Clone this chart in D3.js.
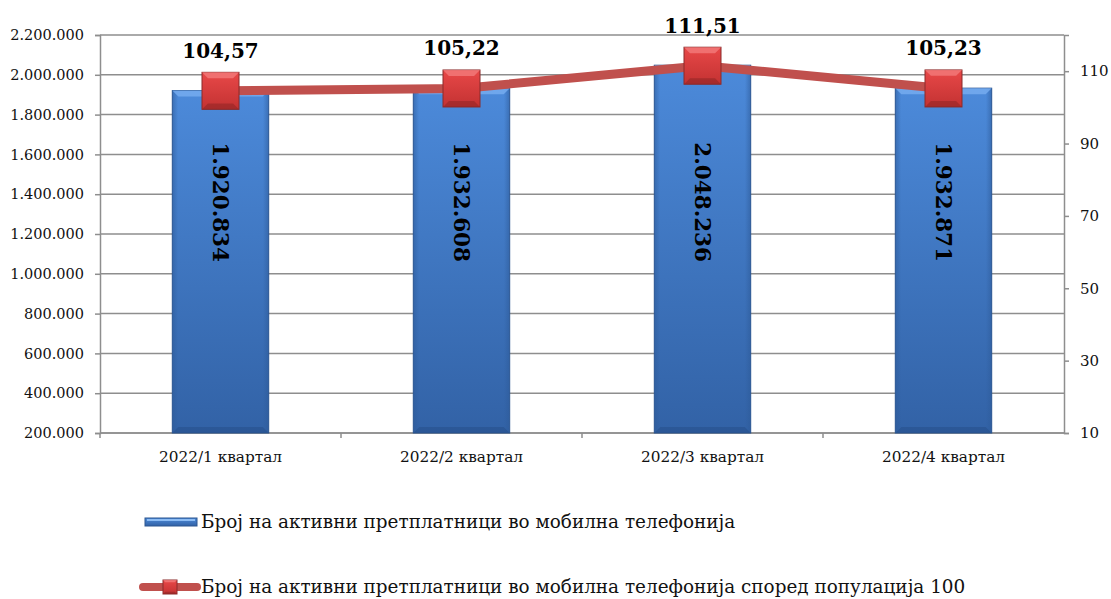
<!DOCTYPE html>
<html>
<head>
<meta charset="utf-8">
<script src="https://cdn.jsdelivr.net/npm/d3@7"></script>
<style>
  body { margin: 0; background: #fff; }
  svg { display: block; font-family: "DejaVu Serif", serif; }
  .tick text { fill: #111; }
</style>
</head>
<body>
<svg id="chart" width="1111" height="599"></svg>
<script>
'use strict';

// chart data
var quarters = ['2022/1 квартал', '2022/2 квартал', '2022/3 квартал', '2022/4 квартал'];
var subscribers = [1920834, 1932608, 2048236, 1932871];
var penetration = [104.57, 105.22, 111.51, 105.23];
var leftTicks = [200000, 400000, 600000, 800000, 1000000, 1200000, 1400000, 1600000, 1800000, 2000000, 2200000];
var rightTicks = [10, 30, 50, 70, 90, 110];
var legendLabels = [
  'Број на активни претплатници во мобилна телефонија',
  'Број на активни претплатници во мобилна телефонија според популација 100'
];

var locale = d3.formatLocale({ decimal: ',', thousands: '.', grouping: [3], currency: ['', ''] });
var fmtInt = locale.format(',d');
var fmtDec = locale.format(',.2f');

var plot = { left: 100, right: 1064, top: 35, bottom: 433 };

var svg = d3.select('#chart');
var defs = svg.append('defs');

// blue bar gradient
var bg = defs.append('linearGradient').attr('id', 'barGrad').attr('x1', 0).attr('y1', 0).attr('x2', 0).attr('y2', 1);
bg.append('stop').attr('offset', '0%').attr('stop-color', '#4c8ada');
bg.append('stop').attr('offset', '100%').attr('stop-color', '#3262a6');

var bs = defs.append('linearGradient').attr('id', 'barSide').attr('x1', 0).attr('y1', 0).attr('x2', 1).attr('y2', 0);
bs.append('stop').attr('offset', '0%').attr('stop-color', '#2d5a98').attr('stop-opacity', 0.55);
bs.append('stop').attr('offset', '6%').attr('stop-color', '#2d5a98').attr('stop-opacity', 0);
bs.append('stop').attr('offset', '94%').attr('stop-color', '#2d5a98').attr('stop-opacity', 0);
bs.append('stop').attr('offset', '100%').attr('stop-color', '#2d5a98').attr('stop-opacity', 0.55);

// red marker gradient
var mg = defs.append('linearGradient').attr('id', 'markGrad').attr('x1', 0).attr('y1', 0).attr('x2', 0).attr('y2', 1);
mg.append('stop').attr('offset', '0%').attr('stop-color', '#e84848');
mg.append('stop').attr('offset', '100%').attr('stop-color', '#c33232');

var x = d3.scaleBand().domain(quarters).range([plot.left, plot.right]);
var yLeft = d3.scaleLinear().domain([200000, 2200000]).range([plot.bottom, plot.top]);
var yRight = d3.scaleLinear().domain([10, 120]).range([plot.bottom, plot.top]);

// gridlines
svg.append('g')
  .selectAll('line')
  .data(leftTicks)
  .enter()
  .append('line')
  .attr('x1', plot.left).attr('x2', plot.right)
  .attr('y1', function (d) { return yLeft(d); })
  .attr('y2', function (d) { return yLeft(d); })
  .attr('stroke', '#8e8e8e')
  .attr('stroke-width', 1.5);

// left axis
var leftAxis = svg.append('g')
  .attr('transform', 'translate(' + plot.left + ',0)')
  .call(d3.axisLeft(yLeft).tickValues(leftTicks).tickFormat(fmtInt).tickSize(5).tickPadding(11));
leftAxis.selectAll('text').style('font-size', '14.5px');

// right axis
var rightAxis = svg.append('g')
  .attr('transform', 'translate(' + plot.right + ',0)')
  .call(d3.axisRight(yRight).tickValues(rightTicks).tickSize(5).tickPadding(11));
rightAxis.selectAll('text').style('font-size', '15px');

// bottom axis, ticks at category boundaries
var bottomAxis = svg.append('g')
  .attr('transform', 'translate(0,' + plot.bottom + ')')
  .call(d3.axisBottom(x).tickSize(0).tickPadding(18));
bottomAxis.selectAll('text').style('font-size', '15.3px');
bottomAxis.selectAll('.domain').remove();
bottomAxis.append('g')
  .selectAll('line')
  .data(quarters)
  .enter()
  .append('line')
  .attr('x1', function (d) { return x(d); })
  .attr('x2', function (d) { return x(d); })
  .attr('y1', 0).attr('y2', 5)
  .attr('stroke', '#8e8e8e').attr('stroke-width', 1.5);

[leftAxis, rightAxis, bottomAxis].forEach(function (g) {
  g.selectAll('.domain').attr('stroke', '#8e8e8e').attr('stroke-width', 1.5);
  g.selectAll('.tick line').attr('stroke', '#8e8e8e').attr('stroke-width', 1.5);
  g.selectAll('text').attr('fill', '#111').style('font-family', '"DejaVu Serif", serif');
});

svg.append('line')
  .attr('x1', plot.left).attr('x2', plot.right)
  .attr('y1', plot.bottom).attr('y2', plot.bottom)
  .attr('stroke', '#8e8e8e').attr('stroke-width', 1.5);

// bars
var barW = x.bandwidth() * 0.4;
var bars = svg.append('g')
  .selectAll('g')
  .data(quarters)
  .enter()
  .append('g');

bars.append('rect')
  .attr('x', function (d) { return x(d) + (x.bandwidth() - barW) / 2; })
  .attr('y', function (d, i) { return yLeft(subscribers[i]); })
  .attr('width', barW)
  .attr('height', function (d, i) { return plot.bottom - yLeft(subscribers[i]); })
  .attr('fill', 'url(#barGrad)')
  .attr('stroke', '#2c5690')
  .attr('stroke-width', 1);

bars.append('rect')
  .attr('x', function (d) { return x(d) + (x.bandwidth() - barW) / 2; })
  .attr('y', function (d, i) { return yLeft(subscribers[i]); })
  .attr('width', barW)
  .attr('height', function (d, i) { return plot.bottom - yLeft(subscribers[i]); })
  .attr('fill', 'url(#barSide)');

// top bevel
bars.append('path')
  .attr('d', function (d, i) {
    var x0 = x(d) + (x.bandwidth() - barW) / 2, y0 = yLeft(subscribers[i]);
    return 'M' + x0 + ',' + y0 + 'h' + barW + 'l-6,6h' + (-(barW - 12)) + 'z';
  })
  .attr('fill', '#78aef0')
  .attr('opacity', 0.8);

// bottom bevel
bars.append('path')
  .attr('d', function (d) {
    var x0 = x(d) + (x.bandwidth() - barW) / 2;
    return 'M' + x0 + ',' + plot.bottom + 'h' + barW + 'l-6,-6h' + (-(barW - 12)) + 'z';
  })
  .attr('fill', '#244c85')
  .attr('opacity', 0.45);

// bar value labels, rotated
bars.append('text')
  .attr('transform', function (d) {
    return 'translate(' + (x(d) + x.bandwidth() / 2) + ',' + yLeft(1360000) + ') rotate(90)';
  })
  .attr('text-anchor', 'middle')
  .attr('dy', '0.35em')
  .style('font-size', '21.5px')
  .style('font-weight', 'bold')
  .attr('fill', '#000')
  .text(function (d, i) { return fmtInt(subscribers[i]); });

// line series
var line = d3.line()
  .x(function (d, i) { return x(quarters[i]) + x.bandwidth() / 2; })
  .y(function (d) { return yRight(d); });

svg.append('path')
  .datum(penetration)
  .attr('d', line)
  .attr('fill', 'none')
  .attr('stroke', '#c0504d')
  .attr('stroke-width', 9)
  .attr('stroke-linejoin', 'round');

function drawMarker(g, size) {
  var h = size / 2, b = size * 0.16;
  g.append('rect')
    .attr('x', -h).attr('y', -h).attr('width', size).attr('height', size)
    .attr('fill', 'url(#markGrad)')
    .attr('stroke', '#8a2b2b').attr('stroke-width', 1);
  g.append('path')
    .attr('d', 'M' + (-h) + ',' + (-h) + 'h' + size + 'l' + (-b) + ',' + b + 'h' + (-(size - 2 * b)) + 'z')
    .attr('fill', '#f27a7a').attr('opacity', 0.8);
  g.append('path')
    .attr('d', 'M' + (-h) + ',' + h + 'h' + size + 'l' + (-b) + ',' + (-b) + 'h' + (-(size - 2 * b)) + 'z')
    .attr('fill', '#8e2525').attr('opacity', 0.55);
}

var markers = svg.append('g')
  .selectAll('g')
  .data(penetration)
  .enter()
  .append('g')
  .attr('transform', function (d, i) {
    return 'translate(' + (x(quarters[i]) + x.bandwidth() / 2) + ',' + yRight(d) + ')';
  });
markers.each(function () { drawMarker(d3.select(this), 37); });

svg.append('g')
  .selectAll('text')
  .data(penetration)
  .enter()
  .append('text')
  .attr('x', function (d, i) { return x(quarters[i]) + x.bandwidth() / 2; })
  .attr('y', function (d) { return yRight(d) - 33; })
  .attr('text-anchor', 'middle')
  .style('font-size', '20px')
  .style('font-weight', 'bold')
  .attr('fill', '#000')
  .text(function (d) { return fmtDec(d); });

// legend
var legend = svg.append('g');
var lg1 = legend.append('g').attr('transform', 'translate(145,522)');
lg1.append('rect')
  .attr('x', 0).attr('y', -4).attr('width', 52).attr('height', 8)
  .attr('fill', 'url(#barGrad)').attr('stroke', '#2c5690').attr('stroke-width', 1);
lg1.append('rect')
  .attr('x', 2).attr('y', -3).attr('width', 48).attr('height', 2)
  .attr('fill', '#8cbcf4');
lg1.append('text')
  .attr('x', 56).attr('dy', '0.35em')
  .style('font-size', '18.4px').attr('fill', '#111')
  .text(legendLabels[0]);

var lg2 = legend.append('g').attr('transform', 'translate(140,587)');
lg2.append('line')
  .attr('x1', 3).attr('x2', 57).attr('y1', 0).attr('y2', 0)
  .attr('stroke', '#c0504d').attr('stroke-width', 8).attr('stroke-linecap', 'round');
drawMarker(lg2.append('g').attr('transform', 'translate(30,0)'), 14);
lg2.append('text')
  .attr('x', 61).attr('dy', '0.35em')
  .style('font-size', '18.4px').attr('fill', '#111')
  .text(legendLabels[1]);
</script>
</body>
</html>
